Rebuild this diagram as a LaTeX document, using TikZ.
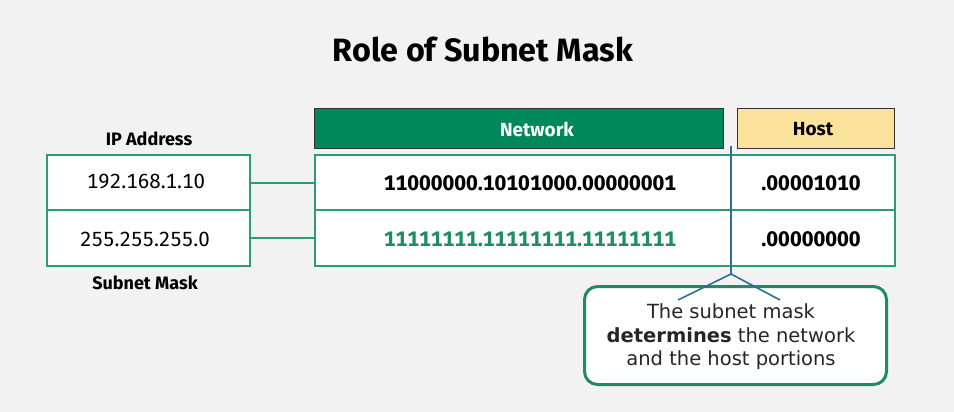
\documentclass[tikz,border=0pt]{standalone}
\usepackage{fontspec}
\setmainfont[Numbers=Monospaced]{Fira Sans}
\newfontfamily\calloutfont{DejaVu Sans}
\definecolor{bgc}{HTML}{F2F2F2}
\definecolor{tgreen}{HTML}{2A9D78}
\definecolor{netfill}{HTML}{00875A}
\definecolor{hostfill}{HTML}{FCE39C}
\definecolor{bline}{HTML}{2E6F95}
\definecolor{cgreen}{HTML}{1E8A66}
\definecolor{maskgreen}{HTML}{1E8C64}
\begin{document}
\begin{tikzpicture}[x=1pt,y=-1pt,
  cell/.style={draw=tgreen,line width=2pt,fill=white,rectangle,inner sep=0pt,anchor=north west},
  hdr/.style={draw=black!80,line width=1.2pt,rectangle,inner sep=0pt,anchor=north west},
  lbl/.style={font=\fontsize{18}{21}\selectfont\bfseries},
  hlbl/.style={font=\fontsize{19}{22}\selectfont\bfseries},
  val/.style={font=\fontsize{20.5}{24}\selectfont},
  bval/.style={font=\fontsize{21}{25}\selectfont\bfseries},
  link/.style={draw=tgreen,line width=2pt}]
\fill[bgc] (0,0) rectangle (954,412);
\useasboundingbox (0,0) rectangle (954,412);
\node[font=\fontsize{32.3}{36}\selectfont\bfseries] (title) at (483,50) {Role of Subnet Mask};
% left box
\node[cell,minimum width=203pt,minimum height=55pt] (ip) at (46,154) {};
\node[cell,minimum width=203pt,minimum height=56pt] (mask) at (46,209) {};
\node[val] (iptxt) at (146,182) {192.168.1.10};
\node[val] (masktxt) at (145,239) {255.255.255.0};
\node[lbl] (iplbl) at (149,139) {IP Address};
\node[lbl] (masklbl) at (145,283) {Subnet Mask};
% headers
\node[hdr,fill=netfill,minimum width=409pt,minimum height=40pt] (net) at (314,108) {};
\node[hlbl,text=white] (nettxt) at (537,129) {Network};
\node[hdr,fill=hostfill,minimum width=157pt,minimum height=40pt] (host) at (737,108) {};
\node[hlbl] (hosttxt) at (813,129) {Host};
% main table
\node[cell,minimum width=580pt,minimum height=55pt] (row1) at (314,154) {};
\node[cell,minimum width=580pt,minimum height=56pt] (row2) at (314,209) {};
\node[bval] (bin1) at (530,183) {11000000.10101000.00000001};
\node[bval,text=maskgreen] (bin2) at (530,239) {11111111.11111111.11111111};
\node[bval] (h1) at (811,183) {.00001010};
\node[bval] (h2) at (811,239) {.00000000};
% connectors
\draw[link] (ip.east) -- (row1.west);
\draw[link] (mask.east) -- (row2.west);
% callout
\node[draw=cgreen,line width=3pt,fill=white,rounded corners=13pt,minimum width=302pt,minimum height=98pt,anchor=north west] (callout) at (583,285) {};
\node[font=\calloutfont\fontsize{19.5}{23.5}\selectfont,align=center,text=black!85] (ctxt) at (731,337) {The subnet mask\\\textbf{determines} the network\\and the host portions};
% pointer line
\coordinate (ptop) at (731,146);
\coordinate (apex) at (731,274);
\coordinate (bl) at (678,300);
\coordinate (br) at (780,300);
\draw[bline,line width=1.6pt] (ptop) -- (apex);
\draw[bline,line width=1.6pt] (bl) -- (apex) -- (br);
\end{tikzpicture}
\end{document}
